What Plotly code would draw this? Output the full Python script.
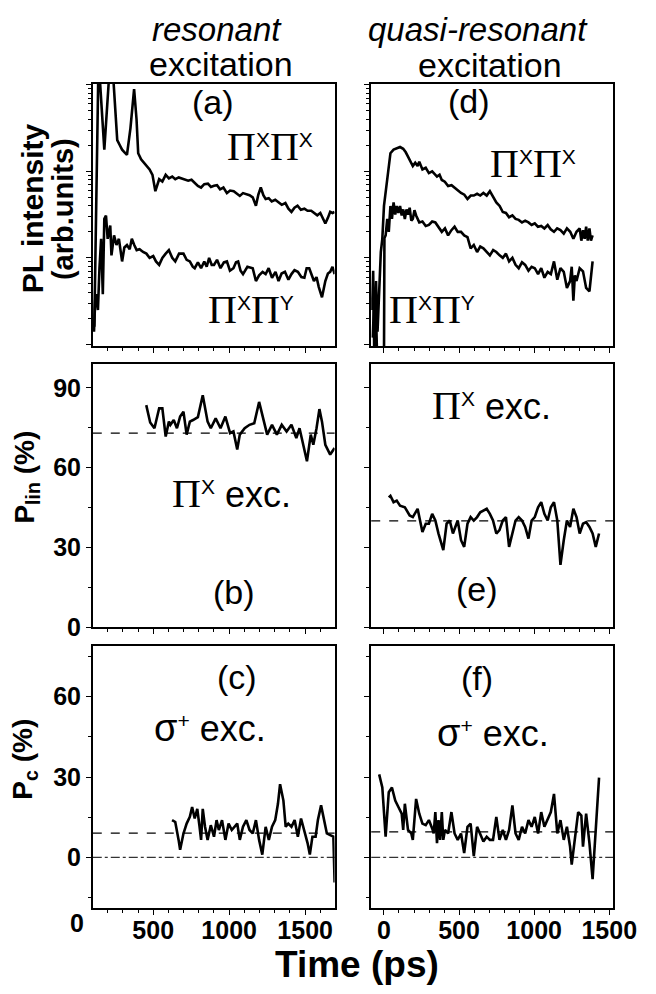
import plotly.graph_objects as go

# ---------------- data ----------------
# (a) resonant excitation, PL intensity (arb. units), Pi^X Pi^X detection
t_a_xx = [112, 140, 178, 217, 229, 263, 280, 295, 311, 327,
          350, 374, 390, 401, 420, 433, 455, 476, 495, 514,
          539, 560, 582, 603, 625, 645, 668, 690, 710, 730,
          752, 773, 794, 815, 836, 860, 880, 900, 920, 940,
          962, 985, 1006, 1030, 1050, 1070, 1091, 1110, 1134, 1155,
          1176, 1192, 1208, 1225, 1240, 1260, 1280, 1303, 1325, 1346,
          1370, 1390, 1410, 1430, 1450, 1472, 1495, 1516, 1540, 1560,
          1580, 1600, 1618, 1633, 1650, 1665, 1680, 1694]
i_a_xx = [0.16, 200, 17.8, 200, 200, 22.9, 20, 17.8, 16.6, 15.5,
          31.6, 89, 40, 16.2, 13.8, 12.9, 11.5, 10.5, 9.1, 5.9,
          8.1, 7.6, 9.1, 8.3, 8.7, 8.1, 8.5, 8.3, 8.1, 7.8,
          8.0, 7.4, 6.8, 6.5, 7.1, 7.2, 6.6, 6.8, 6.9, 6.2,
          6.5, 5.6, 6.0, 5.9, 5.6, 5.2, 5.6, 5.5, 5.3, 5.0,
          4.0, 5.4, 6.5, 5.3, 4.8, 4.9, 4.5, 4.7, 4.4, 4.1,
          4.3, 3.7, 3.4, 3.8, 4.0, 3.6, 3.7, 3.5, 3.5, 3.3,
          3.1, 3.3, 2.9, 2.5, 2.9, 3.4, 3.3, 3.4]

# (a) resonant excitation, Pi^X Pi^Y detection
t_a_xy = [110, 118, 125, 136, 146, 157, 168, 178, 189, 200,
          217, 225, 242, 258, 274, 295, 310, 327, 345, 359,
          375, 391, 410, 433, 455, 476, 500, 518, 539, 560,
          582, 603, 625, 645, 670, 699, 720, 741, 760, 773,
          794, 815, 836, 852, 868, 885, 900, 920, 943, 965,
          985, 1005, 1028, 1045, 1059, 1075, 1091, 1120, 1155, 1176,
          1197, 1220, 1240, 1260, 1282, 1305, 1325, 1345, 1367, 1390,
          1410, 1430, 1452, 1475, 1495, 1510, 1527, 1545, 1558, 1575,
          1590, 1611, 1633, 1650, 1665, 1680, 1694]
i_a_xy = [0.14, 0.32, 0.38, 0.25, 0.76, 1.66, 0.38, 2.82, 3.09, 1.66,
          2.37, 1.07, 1.82, 1.41, 1.66, 0.91, 1.32, 1.41, 1.26, 1.66,
          1.41, 1.23, 1.26, 1.17, 1.12, 1.0, 1.05, 0.91, 0.83, 1.0,
          1.12, 1.23, 1.0, 0.91, 1.12, 1.12, 0.95, 0.91, 0.79, 0.76,
          0.89, 0.76, 0.91, 0.79, 1.0, 0.83, 0.83, 0.95, 0.76, 0.89,
          0.91, 0.71, 0.76, 0.89, 0.91, 0.71, 0.65, 0.79, 0.76, 0.54,
          0.63, 0.69, 0.65, 0.76, 0.59, 0.69, 0.54, 0.66, 0.69, 0.56,
          0.65, 0.72, 0.69, 0.60, 0.59, 0.76, 0.76, 0.63, 0.54, 0.60,
          0.46, 0.35, 0.54, 0.66, 0.69, 0.79, 0.65]

# (d) quasi-resonant excitation, Pi^X Pi^X detection
t_d_xx = [-75, -64, -53, -43, -21, -11, 0, 11, 22, 32,
          43, 64, 85, 107, 128, 145, 160, 176, 192, 208,
          224, 235, 256, 278, 299, 321, 340, 353, 370, 385,
          405, 427, 450, 470, 490, 513, 535, 556, 578, 598,
          620, 641, 662, 684, 705, 727, 748, 770, 791, 812,
          833, 855, 876, 897, 919, 940, 962, 983, 1004, 1025,
          1047, 1068, 1090, 1110, 1132, 1153, 1175, 1197, 1218, 1240,
          1261, 1282, 1303, 1314, 1325, 1336, 1346, 1357, 1368, 1378,
          1389]
i_d_xx = [0.12, 0.35, 0.54, 0.14, 1.17, 1.66, 3.98, 5.62, 8.13, 12.3,
          16.2, 17.8, 18.6, 19.1, 18.2, 16.6, 14.8, 13.2, 11.5, 12.6,
          11.5, 12.9, 10.5, 11.0, 9.55, 10.0, 9.33, 8.71, 9.12, 7.94,
          7.59, 6.76, 6.92, 6.46, 6.03, 5.62, 5.37, 4.79, 5.25, 5.25,
          5.50, 5.25, 5.62, 5.25, 5.89, 5.01, 4.37, 3.98, 3.39, 3.31,
          2.95, 3.09, 2.82, 2.75, 2.57, 2.69, 2.57, 2.40, 2.51, 2.29,
          2.34, 2.19, 2.40, 2.14, 2.0, 2.19, 2.09, 1.91, 2.19, 2.0,
          1.66, 2.0, 2.19, 1.58, 2.09, 1.66, 2.29, 1.58, 2.19, 1.58,
          1.82]

# (d) quasi-resonant excitation, Pi^X Pi^Y detection
t_d_xy = [-80, -72, -64, -55, -45, -30, -10, 0, 3, 11,
          22, 32, 43, 53, 64, 75, 85, 96, 107, 118,
          128, 139, 150, 160, 171, 182, 192, 203, 214, 235,
          256, 278, 299, 321, 342, 363, 385, 406, 427, 449,
          470, 491, 513, 534, 556, 577, 598, 620, 641, 662,
          684, 705, 727, 748, 770, 791, 812, 833, 855, 876,
          897, 919, 940, 962, 983, 1004, 1026, 1047, 1068, 1090,
          1111, 1132, 1154, 1175, 1197, 1218, 1239, 1250, 1261, 1271,
          1282, 1303, 1325, 1346, 1368, 1378, 1389]
i_d_xy = [0.25, 0.71, 0.063, 0.32, 0.063, 0.063, 0.063, 0.063, 1.70, 1.82,
          2.82, 2.0, 3.98, 2.82, 4.37, 3.16, 3.98, 3.31, 3.98, 3.09,
          3.63, 2.82, 3.63, 3.16, 3.80, 2.69, 2.82, 3.55, 3.09, 2.57,
          2.63, 2.34, 2.40, 2.63, 2.57, 2.29, 2.0, 2.19, 1.82, 2.09,
          2.29, 2.0, 2.0, 1.82, 1.74, 1.29, 1.41, 1.17, 1.35, 1.29,
          1.17, 1.07, 1.23, 1.17, 1.07, 1.0, 1.12, 0.91, 1.0, 0.83,
          0.76, 0.89, 0.83, 0.71, 0.79, 0.76, 0.65, 0.76, 0.59, 0.69,
          0.65, 0.91, 0.56, 0.76, 0.69, 0.45, 0.54, 0.79, 0.32, 0.63,
          0.54, 0.76, 0.70, 0.45, 0.41, 0.63, 0.91]

# (b) resonant, P_lin (%)
t_b = [454, 480, 508, 539, 560, 582, 603, 613, 635, 656,
       677, 699, 720, 741, 762, 794, 826, 858, 879, 911,
       943, 975, 1006, 1028, 1053, 1070, 1102, 1134, 1165, 1197,
       1229, 1250, 1282, 1314, 1346, 1378, 1410, 1442, 1463, 1484,
       1512, 1537, 1554, 1575, 1594, 1611, 1633, 1665, 1694]
p_b = [83.5, 77.0, 74.8, 82.3, 82.3, 71.7, 77.3, 76.1, 77.9, 74.8,
       79.2, 81.0, 72.4, 77.3, 77.9, 79.0, 87.2, 77.3, 74.8, 78.5,
       74.8, 79.2, 73.0, 73.6, 66.8, 72.4, 74.8, 76.1, 76.7, 84.7,
       77.3, 72.4, 76.1, 72.4, 76.1, 73.6, 76.1, 71.1, 74.8, 69.9,
       62.4, 72.4, 68.6, 74.8, 82.0, 77.3, 68.6, 64.9, 67.4]
plin_res_level = 73

# (e) quasi-resonant, P_lin (%)
t_e = [32, 43, 64, 85, 107, 139, 171, 192, 224, 256,
       278, 299, 321, 342, 363, 395, 417, 438, 459, 481,
       491, 513, 534, 556, 577, 598, 620, 641, 662, 684,
       705, 726, 748, 769, 791, 812, 833, 855, 876, 897,
       919, 940, 962, 983, 1004, 1026, 1047, 1068, 1090, 1111,
       1132, 1154, 1175, 1197, 1218, 1239, 1261, 1282, 1303, 1325,
       1346, 1368, 1389, 1410, 1432]
p_e = [48.8, 49.4, 47.0, 47.6, 45.7, 45.1, 42.0, 41.4, 44.5, 35.8,
       38.9, 38.9, 42.6, 40.1, 35.2, 29.0, 38.9, 40.1, 35.2, 38.9,
       40.1, 32.7, 30.2, 38.9, 41.4, 40.1, 41.4, 43.2, 43.9, 44.5,
       42.6, 40.1, 35.2, 36.5, 40.1, 41.4, 30.2, 35.2, 40.1, 41.4,
       40.1, 37.7, 33.3, 40.1, 41.4, 45.1, 47.0, 42.6, 40.1, 45.1,
       47.0, 40.1, 23.4, 32.7, 40.1, 37.7, 44.5, 41.4, 35.2, 38.9,
       39.5, 37.7, 35.2, 30.2, 35.2]
plin_qres_level = 40

# (c) resonant, P_c (%)
t_c = [624, 645, 667, 677, 699, 720, 741, 756, 773, 790,
       805, 815, 826, 841, 858, 879, 900, 917, 932, 953,
       975, 996, 1017, 1038, 1053, 1070, 1091, 1113, 1134, 1155,
       1176, 1197, 1218, 1240, 1261, 1282, 1303, 1321, 1335, 1357,
       1372, 1389, 1410, 1431, 1452, 1473, 1495, 1516, 1531, 1548,
       1569, 1584, 1605, 1622, 1643, 1665, 1686, 1694]
p_c = [13.9, 13.2, 6.5, 2.8, 8.9, 12.6, 15.1, 18.8, 14.5, 18.1,
       11.4, 6.5, 18.1, 11.4, 6.5, 12.0, 7.7, 13.9, 10.2, 13.9,
       6.5, 12.6, 10.2, 11.4, 12.6, 6.5, 11.4, 13.9, 10.2, 8.9,
       13.9, 6.5, 1.0, 11.4, 6.5, 11.4, 13.9, 20.0, 27.3, 21.2,
       11.4, 12.6, 11.4, 13.9, 7.7, 14.5, 10.2, 5.3, 1.0, 7.7,
       7.7, 13.9, 19.4, 14.5, 8.9, 8.3, 7.7, -9.4]
pc_res_level = 9
pc_zero = 0

# (f) quasi-resonant, P_c (%)
t_f = [-32, -11, 11, 32, 53, 75, 96, 118, 128, 139,
       160, 182, 192, 214, 235, 256, 278, 299, 321, 331,
       342, 353, 363, 374, 385, 395, 406, 427, 449, 470,
       491, 513, 534, 556, 577, 598, 620, 641, 662, 684,
       705, 726, 748, 769, 791, 812, 833, 855, 876, 897,
       919, 940, 962, 983, 1004, 1026, 1047, 1068, 1090, 1111,
       1132, 1154, 1175, 1197, 1218, 1239, 1250, 1271, 1293, 1314,
       1325, 1346, 1368, 1389, 1410, 1432]
p_f = [31.0, 26.1, 7.7, 24.3, 26.1, 21.2, 18.8, 16.3, 10.2, 20.0,
       10.2, 8.9, 6.5, 21.8, 16.3, 12.6, 12.0, 13.9, 10.8, 8.9,
       16.9, 5.3, 13.9, 6.5, 16.9, 6.5, 10.2, 8.9, 16.9, 8.9,
       6.5, 8.9, 1.6, 11.4, 12.6, 0.4, 11.4, 8.9, 5.9, 7.7,
       6.5, 6.5, 15.1, 6.5, 10.2, 6.5, 10.2, 19.4, 8.9, 6.5,
       11.4, 8.9, 13.9, 11.4, 15.1, 8.9, 16.9, 11.4, 13.9, 16.9,
       23.7, 8.9, 13.9, 6.5, 11.4, 4.0, -2.7, 7.7, 16.9, 15.6,
       4.0, 16.3, 5.3, -8.2, 8.9, 29.8]
pc_qres_level = 9.5

x_tick_vals = [0, 500, 1000, 1500]
x_range_res = [102, 1694]
x_range_qres = [-85, 1525]
pl_log_range = [-1.02, 2.01]
plin_range = [0, 99]
pc_range = [-19, 79]

# ---------------- figure ----------------
W, H = 656, 994
FONT = "Liberation Sans"


def xd(a, b):
    return [a / W, b / W]


def yd(top, bottom):
    return [1 - bottom / H, 1 - top / H]


fig = go.Figure()


def add(x, y, n):
    fig.add_trace(go.Scatter(x=x, y=y, mode="lines",
                             line=dict(color="black", width=2.6),
                             xaxis="x" + ("" if n == 1 else str(n)),
                             yaxis="y" + ("" if n == 1 else str(n)),
                             showlegend=False, hoverinfo="skip"))


add(t_a_xx, i_a_xx, 1)
add(t_a_xy, i_a_xy, 1)
add(t_d_xx, i_d_xx, 2)
add(t_d_xy, i_d_xy, 2)
add(t_b, p_b, 3)
add(t_e, p_e, 4)
add(t_c, p_c, 5)
add(t_f, p_f, 6)

tickfont = dict(family=FONT, size=25, color="black", weight="bold")
common = dict(showline=True, linecolor="black", linewidth=1.6, mirror=True,
              showgrid=False, zeroline=False, ticks="outside", ticklen=5,
              tickwidth=1.2, tickcolor="black", tickfont=tickfont)

cols = {"L": xd(88, 339), "R": xd(377, 628)}
rows = {1: yd(77, 343), 2: yd(361, 628), 3: yd(647, 913)}

minor_x = dict(ticks="outside", ticklen=3, tickwidth=1, tickcolor="black",
               tick0=0, dtick=100)
minor_lin = dict(ticks="outside", ticklen=3, tickwidth=1, tickcolor="black",
                 tick0=0, dtick=15)
minor_log = dict(ticks="outside", ticklen=3, tickwidth=1, tickcolor="black",
                 tickvals=[m * d for d in (0.1, 1, 10) for m in range(2, 10)])

layout = dict(width=W, height=H, margin=dict(l=0, r=0, t=0, b=0),
              paper_bgcolor="white", plot_bgcolor="white", showlegend=False)

panel = [(1, "L", 1), (2, "R", 1), (3, "L", 2), (4, "R", 2), (5, "L", 3), (6, "R", 3)]
for n, col, row in panel:
    sx = "" if n == 1 else str(n)
    xa = dict(common, domain=cols[col], anchor="y" + sx,
              range=x_range_res if col == "L" else x_range_qres,
              tickmode="array", tickvals=x_tick_vals,
              showticklabels=(row == 3), ticklabelstandoff=-6, minor=minor_x)
    if row == 1:
        ya = dict(common, type="log", range=pl_log_range, domain=rows[row],
                  anchor="x" + sx, tickmode="array", tickvals=[0.1, 1, 10, 100],
                  showticklabels=False, minor=minor_log)
    elif row == 2:
        ya = dict(common, range=plin_range, domain=rows[row], anchor="x" + sx,
                  tick0=0, dtick=30, showticklabels=(col == "L"), minor=minor_lin)
    else:
        ya = dict(common, range=pc_range, domain=rows[row], anchor="x" + sx,
                  tick0=0, dtick=30, showticklabels=(col == "L"), minor=minor_lin)
    layout["xaxis" + sx] = xa
    layout["yaxis" + sx] = ya

fig.update_layout(**layout)


# reference lines
def hline(n, y, dash, width):
    sx = "" if n == 1 else str(n)
    fig.add_shape(type="line", xref="x" + sx + " domain", x0=0, x1=1,
                  yref="y" + sx, y0=y, y1=y,
                  line=dict(color="black", dash=dash, width=width))


hline(3, plin_res_level, "dash", 1.3)
hline(4, plin_qres_level, "dash", 1.3)
hline(5, pc_res_level, "dash", 1.3)
hline(6, pc_qres_level, "dash", 1.3)
hline(5, pc_zero, "dashdot", 1.0)
hline(6, pc_zero, "dashdot", 1.0)

# annotations (text)
PI = "<span style='font-family:Liberation Serif;font-size:40px'>Π</span>"


def big(t, s=36):
    return f"<span style='font-size:{s}px'>{t}</span>"


def ann(text, px, py, size, angle=0, weight="normal", family=FONT):
    fig.add_annotation(text=text, x=px / W, y=1 - py / H, xref="paper", yref="paper",
                       xanchor="center", yanchor="middle", showarrow=False,
                       textangle=angle,
                       font=dict(family=family, size=size, color="black", weight=weight))


ann("<i>resonant</i>", 217, 22, 33)
ann("excitation", 221, 57, 34)
ann("<i>quasi-resonant</i>", 488, 22, 33)
ann("excitation", 500, 58, 34)

ann("(a)", 213, 95, 34)
ann("(d)", 478, 94, 34)
ann("(b)", 235, 592, 34)
ann("(e)", 487, 589, 34)
ann("(c)", 238, 679, 34)
ann("(f)", 487, 680, 34)

ann(PI + "<sup>X</sup>" + PI + "<sup>X</sup>", 272, 140, 30)
ann(PI + "<sup>X</sup>" + PI + "<sup>Y</sup>", 252, 306, 30)
ann(PI + "<sup>X</sup>" + PI + "<sup>X</sup>", 545, 158, 30)
ann(PI + "<sup>X</sup>" + PI + "<sup>Y</sup>", 440, 306, 30)

ann(PI + "<sup>X</sup>" + big(" exc."), 232, 492, 30)
ann(PI + "<sup>X</sup>" + big(" exc."), 502, 403, 30)
ann(big("σ", 38) + "<sup>+</sup>" + big(" exc."), 210, 730, 30)
ann(big("σ", 38) + "<sup>+</sup>" + big(" exc."), 503, 735, 30)

# axis titles
ann("PL intensity", 25, 203, 30, angle=-90, weight="bold")
ann("(arb.units)", 57, 204, 29, angle=-90, weight="bold")
ann("P<sub>lin</sub> (%)", 19, 476, 28, angle=-90, weight="bold")
ann("P<sub>c</sub> (%)", 17, 762, 28, angle=-90, weight="bold")
ann("Time (ps)", 362, 970, 37, weight="bold")
# tick label "0" of the left time axis sits just outside the frame
ann("0", 72, 928, 25, weight="bold")

fig.write_html("out.html")
